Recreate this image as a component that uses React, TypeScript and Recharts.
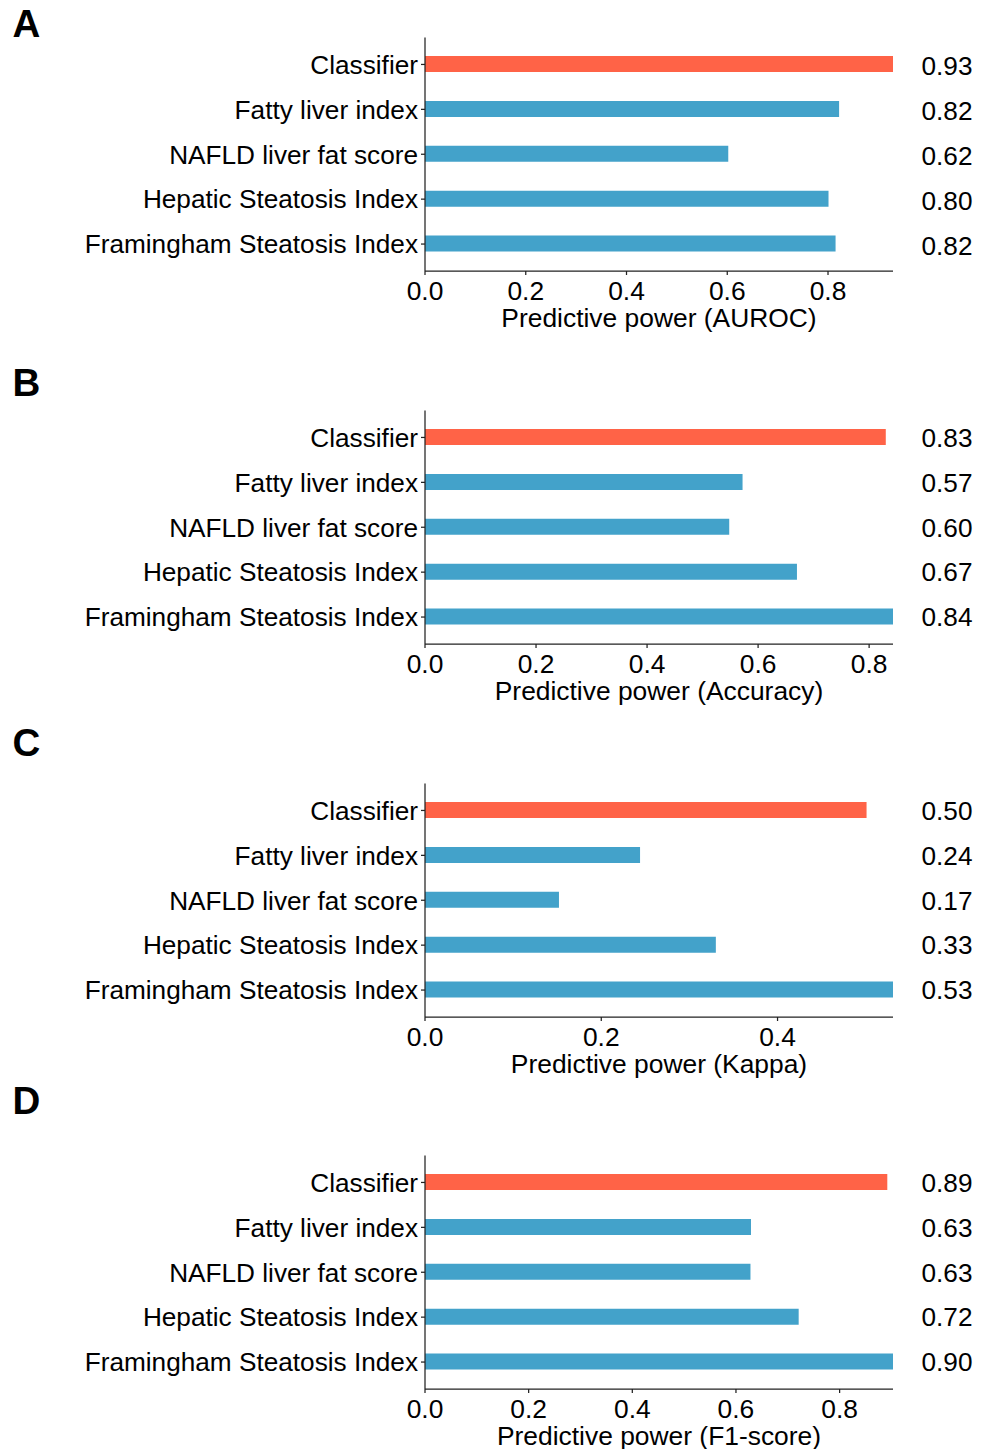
import React from 'react';
import { BarChart, Bar, XAxis, YAxis, Cell } from 'recharts';

const categories = [
  'Classifier',
  'Fatty liver index',
  'NAFLD liver fat score',
  'Hepatic Steatosis Index',
  'Framingham Steatosis Index',
];

const aurocValues = [0.929, 0.822, 0.602, 0.801, 0.815];
const aurocLabels = ['0.93', '0.82', '0.62', '0.80', '0.82'];

const accuracyValues = [0.83, 0.572, 0.548, 0.67, 0.843];
const accuracyLabels = ['0.83', '0.57', '0.60', '0.67', '0.84'];

const kappaValues = [0.501, 0.244, 0.152, 0.33, 0.531];
const kappaLabels = ['0.50', '0.24', '0.17', '0.33', '0.53'];

const f1Values = [0.892, 0.629, 0.628, 0.721, 0.903];
const f1Labels = ['0.89', '0.63', '0.63', '0.72', '0.90'];

const ticksFull = [0, 0.2, 0.4, 0.6, 0.8];
const ticksKappa = [0, 0.2, 0.4];

const titles = [
  'Predictive power (AUROC)',
  'Predictive power (Accuracy)',
  'Predictive power (Kappa)',
  'Predictive power (F1-score)',
];
const panelLetters = ['A', 'B', 'C', 'D'];

const barColors = ['#FF6347', '#43A2CA', '#43A2CA', '#43A2CA', '#43A2CA'];

const FONT = '"Liberation Sans", Arial, Helvetica, sans-serif';
const AXIS_COLOR = '#222';
const FS_CAT = 26.2;
const FS_TICK = 26.4;
const FS_VAL = 26.2;

type PanelProps = {
  values: number[];
  labels: string[];
  ticks: number[];
  title: string;
  top: number;
  labelShift: number;
};

function Panel({ values, labels, ticks, title, top, labelShift }: PanelProps) {
  const data = categories.map((name, i) => ({ name, value: values[i] }));
  const renderValueTick = (p: any) => (
    <text
      x={p.x}
      y={p.y + labelShift}
      dy="0.355em"
      textAnchor="start"
      fontSize={FS_VAL}
      fill="#000"
      fontFamily={FONT}
    >
      {labels[p.index]}
    </text>
  );
  return (
    <div style={{ position: 'absolute', left: 0, top, width: 982, height: 335 }}>
      <BarChart
        width={982}
        height={335}
        data={data}
        layout="vertical"
        margin={{ top: 37.5, right: 0, bottom: 8.5, left: 0 }}
      >
        <XAxis
          type="number"
          dataKey="value"
          domain={[0, 'dataMax']}
          ticks={ticks}
          interval={0}
          tickFormatter={(v: number) => v.toFixed(1)}
          tickSize={4}
          tickMargin={6}
          height={55.5}
          stroke={AXIS_COLOR}
          strokeWidth={1.25}
          tick={{ fontSize: FS_TICK, fill: '#000', fontFamily: FONT }}
          label={{
            value: title,
            position: 'insideBottom',
            offset: 0,
            fontSize: FS_TICK,
            fill: '#000',
            fontFamily: FONT,
          }}
        />
        <YAxis
          yAxisId="left"
          type="category"
          dataKey="name"
          width={425}
          tickSize={4}
          tickMargin={3}
          padding={{ top: 4.5, bottom: 4.5 }}
          interval={0}
          stroke={AXIS_COLOR}
          strokeWidth={1.25}
          tick={{ fontSize: FS_CAT, fill: '#000', fontFamily: FONT }}
        />
        <YAxis
          yAxisId="right"
          orientation="right"
          type="category"
          dataKey="name"
          width={89}
          axisLine={false}
          tickLine={false}
          tickSize={0}
          tickMargin={28.5}
          padding={{ top: 4.5, bottom: 4.5 }}
          interval={0}
          tick={renderValueTick}
        />
        <Bar yAxisId="left" dataKey="value" barSize={16} isAnimationActive={false}>
          {data.map((d, i) => (
            <Cell key={d.name} fill={barColors[i]} />
          ))}
        </Bar>
      </BarChart>
    </div>
  );
}

export default function App() {
  const panels = [
    { values: aurocValues, labels: aurocLabels, ticks: ticksFull, top: 0, labelShift: 1.5 },
    { values: accuracyValues, labels: accuracyLabels, ticks: ticksFull, top: 373.2, labelShift: 0 },
    { values: kappaValues, labels: kappaLabels, ticks: ticksKappa, top: 745.8, labelShift: 0 },
    { values: f1Values, labels: f1Labels, ticks: ticksFull, top: 1117.8, labelShift: 0 },
  ];
  const letterY = [37.3, 396, 756.3, 1114.3];
  return (
    <div
      style={{
        position: 'absolute',
        left: 0,
        top: 0,
        width: 982,
        height: 1449,
        background: '#fff',
        fontFamily: FONT,
        overflow: 'hidden',
      }}
    >
      {panels.map((p, i) => (
        <Panel
          key={i}
          values={p.values}
          labels={p.labels}
          ticks={p.ticks}
          title={titles[i]}
          top={p.top}
          labelShift={p.labelShift}
        />
      ))}
      <svg
        width={982}
        height={1449}
        style={{ position: 'absolute', left: 0, top: 0, pointerEvents: 'none' }}
      >
        {panelLetters.map((l, i) => (
          <text key={l} x={12.5} y={letterY[i]} fontSize={38.5} fontWeight="bold" fill="#000" fontFamily={FONT}>
            {l}
          </text>
        ))}
      </svg>
    </div>
  );
}
